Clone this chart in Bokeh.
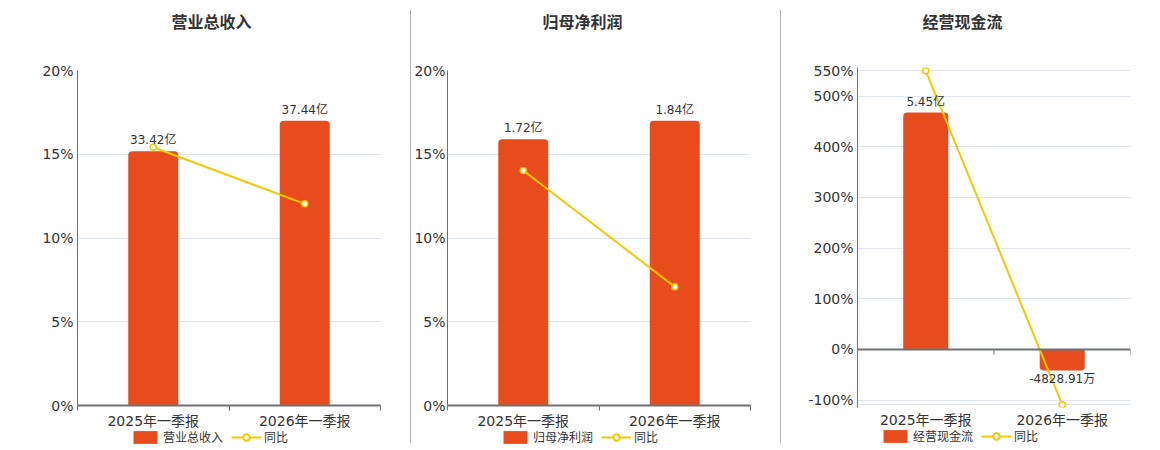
from bokeh.plotting import figure
from bokeh.models import (Range1d, FixedTicker, PrintfTickFormatter, Legend, LegendItem,
                          Span, Div, ColumnDataSource, Title)
from bokeh.layouts import row, column
from bokeh.embed import file_html
from bokeh.resources import INLINE
from bokeh.core.properties import value

# ---------------- data ----------------
categories = ["2025年一季报", "2026年一季报"]
titles = ["营业总收入", "归母净利润", "经营现金流"]
bar_values_1 = [33.42, 37.44]          # 亿
bar_values_2 = [1.72, 1.84]            # 亿
bar_values_3 = [5.45, -0.482891]       # 亿
bar_labels_1 = ["33.42亿", "37.44亿"]
bar_labels_2 = ["1.72亿", "1.84亿"]
bar_labels_3 = ["5.45亿", "-4828.91万"]
yoy_1 = [15.42, 12.04]                 # %
yoy_2 = [14.03, 7.09]
yoy_3 = [550.0, -109.0]
yticks_1 = [0, 5, 10, 15, 20]
yticks_2 = [0, 5, 10, 15, 20]
yticks_3 = [-100, 0, 100, 200, 300, 400, 500, 550]
yrange_1 = (0, 20)
yrange_2 = (0, 20)
yrange_3 = (-114.5, 556.5)

# ---------------- style ----------------
FONT = "DejaVu Sans, Noto Sans CJK SC"
BAR = "#E84C1D"
LINE = "#F5C800"
TXT = "#333333"
AXIS = "#6E7079"
GRID = "#E0E6F1"
SEP = "#B4B4B4"
MAIN_H = 430
LEG_H = 20


def make_panel(title, cats, bars, labels, yoy, yticks, yr, border_l, border_r, frame_w,
               title_x, legend_x, top=70, frame_h=335, zero_axis=False, ystand=4):
    xs = [j + 0.5 for j in range(len(cats))]
    y0, y1 = yr
    ymax = max(yticks)
    bar_end = max(bars) / 0.85 * (y1 / ymax)
    bar_start = y0 / y1 * bar_end
    width = border_l + frame_w + border_r

    p = figure(frame_width=frame_w, frame_height=frame_h,
               x_range=Range1d(0, len(cats)), y_range=Range1d(y0, y1),
               output_backend="svg", toolbar_location=None,
               min_border_left=border_l, min_border_right=border_r,
               min_border_top=top, min_border_bottom=MAIN_H - top - frame_h)
    p.extra_y_ranges = {"bar": Range1d(bar_start, bar_end)}
    p.outline_line_color = None
    p.background_fill_color = "white"
    p.border_fill_color = "white"

    # spacer title (nearest to frame) then the real title above it
    p.add_layout(Title(text=" ", text_font_size="1px", standoff=31 - (70 - top)), "above")
    p.add_layout(Title(text=title, align="left", offset=title_x, text_font=FONT,
                       text_font_size="16px", text_font_style="bold", text_color=TXT,
                       standoff=10), "above")

    # grid
    p.xgrid.visible = False
    p.ygrid.grid_line_color = GRID
    gticks = list(yticks) + ([min(yoy)] if zero_axis else [])
    p.ygrid.ticker = FixedTicker(ticks=gticks)

    # bars
    pos = ColumnDataSource(dict(x=[x for x, v in zip(xs, bars) if v >= 0],
                                top=[v for v in bars if v >= 0],
                                lab=[l for l, v in zip(labels, bars) if v >= 0]))
    neg = ColumnDataSource(dict(x=[x for x, v in zip(xs, bars) if v < 0],
                                top=[v for v in bars if v < 0],
                                lab=[l for l, v in zip(labels, bars) if v < 0]))
    p.vbar(x="x", top="top", bottom=0, width=0.33, source=pos, y_range_name="bar",
           fill_color=BAR, line_color=None, border_radius=(4, 4, 0, 0))
    p.vbar(x="x", top=0, bottom="top", width=0.33, source=neg, y_range_name="bar",
           fill_color=BAR, line_color=None, border_radius=(0, 0, 4, 4))

    if zero_axis:
        p.add_layout(Span(location=0, dimension="width", line_color=AXIS, line_width=2))
        tick_len = 5 * (y1 - y0) / frame_h
        bounds = list(range(len(cats) + 1))
        p.segment(x0=bounds, y0=[0] * len(bounds), x1=bounds, y1=[-tick_len] * len(bounds),
                  line_color=AXIS, line_width=1)

    # line
    p.line(xs, yoy, line_color=LINE, line_width=2)
    p.scatter(xs, yoy, size=6, fill_color="white", line_color=LINE, line_width=1.5)

    # labels
    p.text(x="x", y="top", text="lab", source=pos, y_range_name="bar", text_align="center",
           text_baseline="bottom", y_offset=-4, text_font=value(FONT), text_font_size="12px",
           text_color=TXT)
    p.text(x="x", y="top", text="lab", source=neg, y_range_name="bar", text_align="center",
           text_baseline="top", y_offset=2, text_font=value(FONT), text_font_size="12px",
           text_color=TXT)

    # x axis
    xa = p.xaxis[0]
    xa.ticker = FixedTicker(ticks=xs, minor_ticks=list(range(len(cats) + 1)))
    xa.major_label_overrides = {x: c for x, c in zip(xs, cats)}
    xa.major_tick_line_color = None
    xa.major_tick_out = 0
    xa.major_tick_in = 0
    xa.major_label_text_font = FONT
    xa.major_label_text_font_size = "14px"
    xa.major_label_text_color = TXT
    if zero_axis:
        xa.axis_line_color = None
        xa.minor_tick_line_color = None
        xa.minor_tick_out = 0
        xa.minor_tick_in = 0
        xa.major_label_standoff = 4
    else:
        xa.axis_line_color = AXIS
        xa.axis_line_width = 2
        xa.minor_tick_line_color = AXIS
        xa.minor_tick_out = 5
        xa.minor_tick_in = 0
        xa.major_label_standoff = 2

    # y axis
    ya = p.yaxis[0]
    ya.ticker = FixedTicker(ticks=yticks)
    ya.formatter = PrintfTickFormatter(format="%d%%")
    ya.major_tick_line_color = None
    ya.minor_tick_line_color = None
    ya.major_tick_out = 0
    ya.major_tick_in = 0
    ya.axis_line_color = AXIS
    ya.major_label_standoff = ystand
    ya.major_label_text_font = FONT
    ya.major_label_text_font_size = "14px"
    ya.major_label_text_color = TXT

    # legend strip: its own small figure below the chart (its frame aligns with the chart's)
    lf = figure(width=width, height=LEG_H, min_border=0, toolbar_location=None,
                output_backend="svg", x_axis_location=None, y_axis_location=None,
                x_range=Range1d(0, 1), y_range=Range1d(0, 1))
    lf.outline_line_color = None
    lf.xgrid.visible = False
    lf.ygrid.visible = False
    offscreen = ColumnDataSource(dict(x=[-5.0], y=[-5.0], b=[-6.0]))
    lb = lf.vbar(x="x", top="y", bottom="b", width=0.1, source=offscreen, fill_color=BAR,
                 line_color=None, border_radius=3)
    ll = lf.line(x="x", y="y", source=offscreen, line_color=LINE, line_width=2)
    ls = lf.scatter(x="x", y="y", source=offscreen, size=9, fill_color="white",
                    line_color=LINE, line_width=2)
    legend = Legend(items=[LegendItem(label=title, renderers=[lb]),
                           LegendItem(label="同比", renderers=[ll, ls])],
                    orientation="horizontal", location=(legend_x, 6),
                    border_line_color=None, background_fill_alpha=0, padding=0, margin=0,
                    spacing=8, glyph_width=30, glyph_height=16, label_standoff=3,
                    label_text_font=FONT, label_text_font_size="12px",
                    label_text_color=TXT, label_height=12)
    lf.add_layout(legend)
    return column(p, lf, spacing=0)


p1 = make_panel(titles[0], categories, bar_values_1, bar_labels_1, yoy_1, yticks_1, yrange_1,
                77, 30, 303, 94, 53)
p2 = make_panel(titles[1], categories, bar_values_2, bar_labels_2, yoy_2, yticks_2, yrange_2,
                36, 30, 303, 95, 53, ystand=2)
p3 = make_panel(titles[2], categories, bar_values_3, bar_labels_3, yoy_3, yticks_3, yrange_3,
                76, 22, 273, 65, 23, top=67, frame_h=340, zero_axis=True)


def sep():
    return Div(width=1, height=433, margin=(10, 0, 0, 0),
               styles={"background-color": SEP})


layout = row(p1, sep(), p2, sep(), p3)

open("out.html", "w").write(file_html(layout, INLINE))
